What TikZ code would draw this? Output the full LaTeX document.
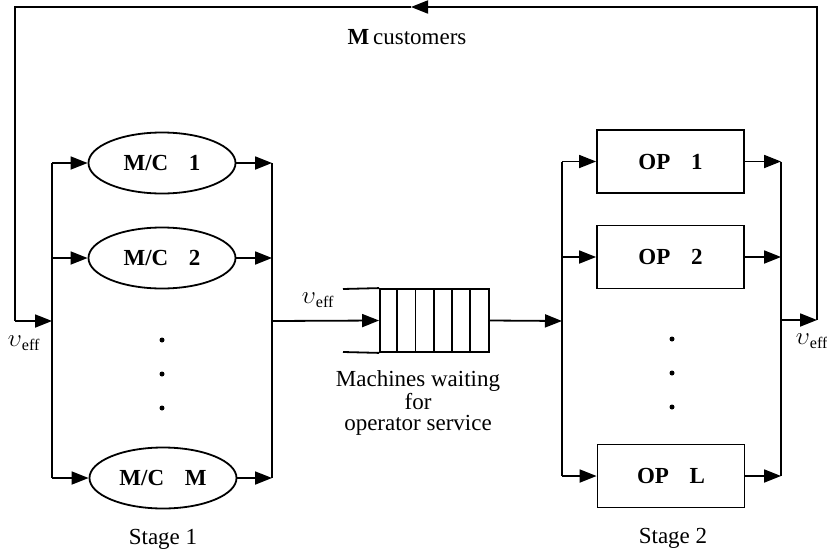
\documentclass[tikz,border=0pt]{standalone}
\usepackage{fontspec}
\setmainfont{Liberation Serif}
\usetikzlibrary{arrows.meta,shapes.geometric}
\begin{document}
\begin{tikzpicture}[x=1pt,y=-1pt,
  line width=1.8pt,
  every node/.style={font=\fontsize{23}{21}\selectfont},
  tip/.style={-{Triangle[length=17pt,width=13pt]}},
  mc/.style={ellipse,draw,minimum width=147pt,minimum height=61pt,inner sep=0pt,
             font=\fontsize{23}{26}\selectfont\bfseries},
  opbox/.style={rectangle,draw,minimum width=147pt,minimum height=63pt,inner sep=0pt,
             font=\fontsize{23}{26}\selectfont\bfseries},
  dotmark/.style={circle,fill,inner sep=0pt,minimum size=5pt}
]
\useasboundingbox (0,0) rectangle (827,554);

% ---------- Stage 1: machines ----------
\node[mc] (m1) at (162,163) {M/C\hspace{0.9em}1};
\node[mc] (m2) at (162,258) {M/C\hspace{0.9em}2};
\node[mc] (mM) at (163,478) {M/C\hspace{0.9em}M};

\coordinate (l1) at (52,163);
\coordinate (l2) at (52,258);
\coordinate (lM) at (52,478);
\coordinate (lin) at (52,321);
\coordinate (r1) at (272,163);
\coordinate (r2) at (272,258);
\coordinate (rM) at (272,478);
\coordinate (rout) at (272,321);

\draw (l1) -- (lM);
\draw (r1) -- (rM);
\draw[tip] (l1) -- (m1);
\draw[tip] (l2) -- (m2);
\draw[tip] (lM) -- (mM);
\draw[tip] (m1) -- (r1);
\draw[tip] (m2) -- (r2);
\draw[tip] (mM) -- (rM);

\node[dotmark] (d1) at (162,340) {};
\node[dotmark] (d2) at (162,374) {};
\node[dotmark] (d3) at (162,408) {};

\node (st1) at (163,539) {Stage 1};

% ---------- queue of machines waiting ----------
\node[draw,minimum width=109pt,minimum height=63pt,inner sep=0pt] (q) at (434.5,320.5) {};
\coordinate (qa) at (343,289);
\coordinate (qb) at (343,352);
\draw (qa) -- (q.north west);
\draw (qb) -- (q.south west);
\foreach \i in {1,...,5}
  \draw ([xshift=\i*109/6 pt]q.north west) -- ([xshift=\i*109/6 pt]q.south west);

\draw[tip] (rout) -- (q.west);
\coordinate (sin) at (562,321);
\draw[tip] (q.east) -- (sin);

\node (vq) at (318,300) {$\upsilon$\textsubscript{eff}};
\node[align=center] (qt) at (418,403) {Machines waiting\\for\\operator service};

% ---------- Stage 2: operators ----------
\node[opbox] (o1) at (670.5,161.5) {OP\hspace{0.9em}1};
\node[opbox] (o2) at (670.5,257) {OP\hspace{0.9em}2};
\node[opbox] (oL) at (671,476) {OP\hspace{0.9em}L};

\coordinate (s1) at (562,161.5);
\coordinate (s2) at (562,257);
\coordinate (sL) at (562,476);
\coordinate (t1) at (781,161.5);
\coordinate (t2) at (781,257);
\coordinate (tL) at (781,476);
\coordinate (tout) at (781,320);

\draw (s1) -- (sL);
\draw (t1) -- (tL);
\draw[tip] (s1) -- (o1);
\draw[tip] (s2) -- (o2);
\draw[tip] (sL) -- (oL);
\draw[tip] (o1) -- (t1);
\draw[tip] (o2) -- (t2);
\draw[tip] (oL) -- (tL);

\node[dotmark] (e1) at (672,339) {};
\node[dotmark] (e2) at (672,373) {};
\node[dotmark] (e3) at (672,407) {};

\node (st2) at (673,538) {Stage 2};

% ---------- closed loop of customers ----------
\coordinate (fr) at (817,320);
\coordinate (ftr) at (817,7);
\coordinate (ftm) at (411,7);
\coordinate (ftl) at (15,7);
\coordinate (fl) at (15,321);

\draw[tip] (tout) -- (fr);
\draw[tip] (fr) -- (ftr) -- (ftm);
\draw (ftm) -- (ftl) -- (fl);
\draw[tip] (fl) -- (lin);

\node (vl) at (24,343) {$\upsilon$\textsubscript{eff}};
\node (vr) at (812,341) {$\upsilon$\textsubscript{eff}};
\node (mcust) at (407,37) {\textbf{M}\,customers};
\end{tikzpicture}
\end{document}
